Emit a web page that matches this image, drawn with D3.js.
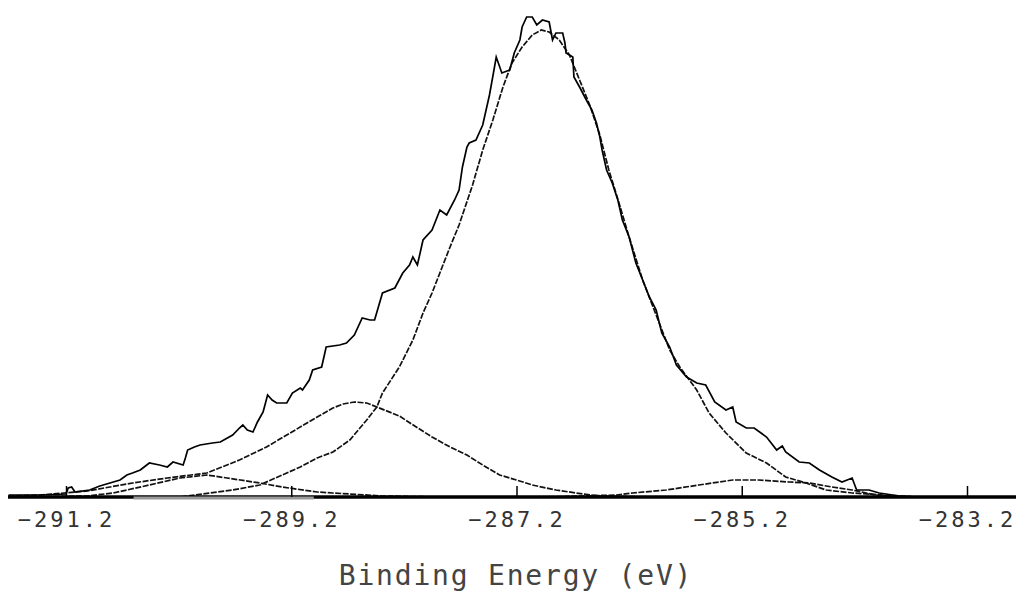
<!DOCTYPE html>
<html lang="en">
<head>
  <meta charset="UTF-8">
  <title>Binding Energy</title>
  <script src="https://d3js.org/d3.v7.min.js"></script>
  <style>
    body { margin: 0; background: #fff; }
    svg { display: block; }
    .tick text { font-family: "DejaVu Sans Mono", monospace; }
  </style>
</head>
<body>
  <script>
    // measured spectrum, [binding energy (eV), intensity (arb.)]
    const spectrum = [
      [-291.71, 2], [-291.43, 2], [-291.20, 3], [-291.18, 9], [-291.15, 10], [-291.12, 5],
      [-290.99, 7], [-290.90, 11], [-290.81, 14], [-290.72, 17], [-290.66, 22], [-290.61, 24],
      [-290.54, 27], [-290.46, 34], [-290.37, 32], [-290.30, 30], [-290.25, 35], [-290.16, 32],
      [-290.14, 39], [-290.12, 47], [-290.06, 50], [-290.01, 52], [-289.90, 54], [-289.83, 55],
      [-289.72, 62], [-289.66, 69], [-289.63, 72], [-289.59, 67], [-289.54, 65], [-289.50, 75],
      [-289.45, 85], [-289.41, 102], [-289.37, 97], [-289.33, 94], [-289.24, 94], [-289.19, 104],
      [-289.12, 109], [-289.10, 107], [-289.04, 117], [-289.01, 127], [-288.93, 130], [-288.89, 150],
      [-288.77, 152], [-288.71, 154], [-288.64, 162], [-288.57, 179], [-288.50, 177], [-288.46, 177],
      [-288.39, 204], [-288.28, 209], [-288.21, 224], [-288.15, 232], [-288.12, 240], [-288.08, 232],
      [-288.03, 257], [-287.95, 267], [-287.88, 287], [-287.82, 282], [-287.75, 297], [-287.71, 307],
      [-287.68, 330], [-287.64, 350], [-287.62, 354], [-287.56, 357], [-287.50, 372], [-287.44, 402],
      [-287.40, 427], [-287.38, 440], [-287.33, 424], [-287.26, 427], [-287.22, 444], [-287.17, 457],
      [-287.15, 470], [-287.11, 480], [-287.06, 480], [-287.02, 472], [-286.97, 477], [-286.91, 475],
      [-286.88, 457], [-286.85, 464], [-286.79, 464], [-286.77, 454], [-286.76, 444], [-286.70, 440],
      [-286.69, 420], [-286.64, 410], [-286.58, 397], [-286.53, 387], [-286.49, 374], [-286.46, 360],
      [-286.44, 347], [-286.40, 327], [-286.35, 314], [-286.30, 297], [-286.26, 277], [-286.20, 260],
      [-286.14, 234], [-286.08, 217], [-286.02, 200], [-285.96, 187], [-285.91, 164], [-285.84, 150],
      [-285.78, 132], [-285.69, 120], [-285.60, 114], [-285.52, 112], [-285.44, 95], [-285.34, 87],
      [-285.28, 90], [-285.25, 75], [-285.16, 69], [-285.09, 69], [-284.98, 60], [-284.89, 47],
      [-284.84, 51], [-284.81, 45], [-284.69, 35], [-284.60, 34], [-284.51, 27], [-284.40, 20],
      [-284.31, 15], [-284.22, 19], [-284.18, 7], [-284.07, 7], [-283.98, 4], [-283.80, 1],
      [-283.65, 0], [-283.27, 0], [-282.80, 0]
    ];

    // fitted component at -287.0 eV
    const peakMain = [
      [-291.71, 0], [-290.19, 0], [-289.72, 7], [-289.48, 12], [-289.28, 22], [-289.12, 30],
      [-288.97, 39], [-288.83, 45], [-288.68, 57], [-288.53, 77], [-288.44, 90], [-288.39, 104],
      [-288.24, 130], [-288.12, 157], [-288.03, 184], [-287.95, 204], [-287.86, 230], [-287.79, 250],
      [-287.71, 272], [-287.59, 312], [-287.50, 347], [-287.41, 377], [-287.32, 410], [-287.24, 434],
      [-287.15, 450], [-287.06, 462], [-286.98, 467], [-286.91, 465], [-286.82, 457], [-286.73, 442],
      [-286.64, 417], [-286.55, 392], [-286.46, 362], [-286.38, 327], [-286.29, 294], [-286.20, 260],
      [-286.08, 217], [-285.96, 182], [-285.84, 147], [-285.75, 130], [-285.60, 107], [-285.49, 84],
      [-285.34, 64], [-285.16, 44], [-284.98, 34], [-284.81, 20], [-284.63, 14], [-284.45, 7],
      [-284.22, 4], [-283.95, 2], [-283.63, 0], [-282.80, 0]
    ];

    // fitted component at -288.6 eV
    const peak2 = [
      [-291.71, 1], [-291.43, 2], [-291.01, 6], [-290.61, 14], [-290.30, 19], [-289.95, 24],
      [-289.66, 37], [-289.42, 50], [-289.21, 64], [-288.97, 80], [-288.83, 89], [-288.74, 93],
      [-288.64, 95], [-288.53, 94], [-288.44, 90], [-288.24, 81], [-288.09, 70], [-287.95, 60],
      [-287.79, 50], [-287.64, 42], [-287.50, 32], [-287.35, 22], [-287.20, 17], [-287.06, 12],
      [-286.85, 7], [-286.61, 3], [-286.46, 1], [-286.02, 0], [-282.80, 0]
    ];

    // fitted component at -290.0 eV
    const peak3 = [
      [-291.71, 0], [-291.01, 1], [-290.78, 4], [-290.46, 12], [-290.19, 19], [-289.95, 22],
      [-289.77, 19], [-289.48, 14], [-289.28, 10], [-288.97, 5], [-288.83, 4], [-288.39, 1],
      [-287.88, 0], [-282.80, 0]
    ];

    // fitted component at -285.2 eV
    const peak4 = [
      [-291.71, 0], [-286.91, 0], [-286.61, 1], [-286.31, 2], [-286.17, 4], [-285.87, 7],
      [-285.58, 12], [-285.28, 17], [-285.05, 17], [-284.78, 15], [-284.60, 14], [-284.40, 10],
      [-284.22, 7], [-284.01, 2], [-283.80, 0], [-282.80, 0]
    ];

    const tickValues = [-291.2, -289.2, -287.2, -285.2, -283.2];
    const axisTitle = "Binding Energy (eV)";

    const width = 1016;
    const height = 594;

    const x = d3.scaleLinear().domain([-291.2, -283.2]).range([66, 967]);
    const y = d3.scaleLinear().domain([0, 480]).range([497, 17]);

    const svg = d3.select("body").append("svg")
      .attr("width", width)
      .attr("height", height);

    const line = d3.line()
      .x(d => x(d[0]))
      .y(d => y(d[1]));

    // components first, spectrum on top
    [peak3, peak4, peak2, peakMain].forEach(s => {
      svg.append("path")
        .datum(s)
        .attr("fill", "none")
        .attr("stroke", "#111")
        .attr("stroke-width", 1.7)
        .attr("stroke-dasharray", "6 1.5")
        .attr("d", line);
    });

    svg.append("path")
      .datum(spectrum)
      .attr("fill", "none")
      .attr("stroke", "#000")
      .attr("stroke-width", 1.7)
      .attr("d", line);

    // x axis: thick baseline, ticks pointing up
    const xAxis = d3.axisBottom(x)
      .tickValues(tickValues)
      .tickFormat(d3.format(".1f"))
      .tickSizeInner(-11)
      .tickSizeOuter(0)
      .tickPadding(30);

    const gx = svg.append("g")
      .attr("transform", `translate(0,${y(0)})`)
      .call(xAxis);

    gx.select(".domain").remove();
    gx.insert("line", ":first-child")
      .attr("x1", 8).attr("x2", width)
      .attr("stroke", "#000")
      .attr("stroke-width", 3.5);
    // faded stretch of the baseline in the scan
    gx.insert("line", ".tick")
      .attr("x1", x(-290.6)).attr("x2", x(-289.0))
      .attr("y1", 1).attr("y2", 1)
      .attr("stroke", "#999")
      .attr("stroke-width", 3);

    gx.selectAll(".tick line")
      .attr("stroke", "#000")
      .attr("stroke-width", 1.5);

    gx.selectAll(".tick text")
      .attr("fill", "#333")
      .attr("font-size", 22)
      .attr("letter-spacing", 3)
      .attr("dy", 0);

    svg.append("text")
      .attr("x", 516)
      .attr("y", 585)
      .attr("text-anchor", "middle")
      .attr("font-family", "DejaVu Sans Mono, monospace")
      .attr("font-size", 28)
      .attr("letter-spacing", 1.8)
      .attr("fill", "#444")
      .text(axisTitle);
  </script>
</body>
</html>
